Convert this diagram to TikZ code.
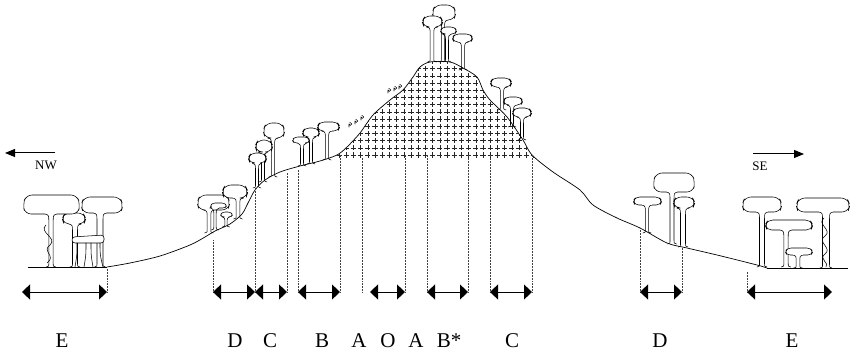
\documentclass[tikz,border=0pt]{standalone}
\usepackage{fontspec}
\setmainfont{Liberation Serif}
\usetikzlibrary{arrows.meta}

% mushroom-shaped tree: trunk x, ground y, crown left, crown right, crown top, crown bottom, trunk half width
\newcommand\mtree[7]{%
  \pgfmathsetmacro\mtrc{min(6,(#6-#5)/2.1)}%
  \pgfmathsetmacro\mtfl{min(3.5,(#4-#3)/6)}%
  \pgfmathsetmacro\mtda{#6+min(7,(#2-#6)*0.3)}%
  \pgfmathsetmacro\mtdb{#2-min(4,(#2-#6)*0.2)}%
  \draw[treeline] ({#1-#7-\mtfl},{#6}) .. controls ({#1-#7},{#6+0.8}) and ({#1-#7},{#6+2}) .. ({#1-#7},{\mtda})
      -- ({#1-#7},{\mtdb}) .. controls ({#1-#7},{#2-0.5}) .. ({#1-#7-2.5},{#2});
  \draw[treeline] ({#1+#7+\mtfl},{#6}) .. controls ({#1+#7},{#6+0.8}) and ({#1+#7},{#6+2}) .. ({#1+#7},{\mtda})
      -- ({#1+#7},{\mtdb}) .. controls ({#1+#7},{#2-0.5}) .. ({#1+#7+2.5},{#2});
  \filldraw[treeline, fill=white, rounded corners=\mtrc pt] ({#1-#7-\mtfl},{#6}) -- ({#3+2},{#6}) -- ({#3},{(#5+#6)/2}) -- ({#3+3},{#5}) -- ({#4-3},{#5}) -- ({#4},{(#5+#6)/2}) -- ({#4-2},{#6}) -- ({#1+#7+\mtfl},{#6});
}
% small shrub on the slope
\newcommand\shrub[2]{%
  \draw[treeline] ({#1},{#2}) -- ({#1},{#2-3}) arc[start angle=180, end angle=-120, radius=1.4];
}

\begin{document}
\begin{tikzpicture}[x=1pt, y=-1pt,
  treeline/.style={line width=0.55pt, line join=round, line cap=round},
  ground/.style={line width=0.7pt, line join=round},
  guide/.style={densely dotted, line width=0.5pt, black!75},
  span/.style={line width=1pt, {Triangle[width=15pt,length=8pt]}-{Triangle[width=15pt,length=8pt]}},
  compass/.style={line width=1pt, -{Triangle[width=8pt,length=10pt]}},
  zone/.style={font=\fontsize{21}{23}\selectfont, anchor=base, inner sep=0pt},
  dirlabel/.style={font=\fontsize{13}{15}\selectfont, anchor=base, inner sep=0pt},
  crossmark/.style={line width=0.5pt, black!85}]

\useasboundingbox (0,0) rectangle (850,352);

% ---- terrain profile ----
\draw[ground] (28,267) -- (107,267);
\draw[ground] plot[smooth, tension=0.5] coordinates {
  (107,267) (130,263) (160,256) (190,245) (205,237) (215,231) (230,224)
  (242,214) (248,203) (255,190) (265,180) (280,172) (300,166) (320,161)
  (337,155) (347,147) (360,133) (373,115) (390,100) (403,90) (413,77)
  (420,67) (430,62) (450,62) (463,68) (477,77) (483,90) (490,100)
  (507,117) (523,140) (532,155) (553,172) (580,190) (593,205) (617,218)
  (640,228) (667,243) (687,248) (717,255) (757,265) (767,268)};
\draw[ground] (767,268) -- (848,268);

% ---- cross hatching of the summit ----
\begin{scope}
  \clip plot[smooth, tension=0.5] coordinates {
    (337,155) (347,147) (360,133) (373,115) (390,100) (403,90) (413,77)
    (420,67) (430,62) (450,62) (463,68) (477,77) (483,90) (490,100)
    (507,117) (523,140) (532,155)} -- (535,158) -- (335,158) -- cycle;
  \foreach \i in {0,...,27}{
    \foreach \j in {0,...,13}{
      \draw[crossmark] ({339+\i*7.2-2.6},{155-\j*7.2}) -- ++(5.2,0)
                       ({339+\i*7.2},{155-\j*7.2-2.6}) -- ++(0,5.2);
    }
  }
\end{scope}

% ---- shrubs on the upper slope ----
\shrub{349}{127}
\shrub{355}{124}
\shrub{361}{120}
\shrub{388}{93}
\shrub{394}{91}
\shrub{399}{89}

% ---- left forest (E) ----
\mtree{75}{267}{62}{86}{213}{224}{2.5}
\mtree{51}{267}{23}{80}{195}{214}{2.2}
\mtree{100}{267}{81}{123}{197}{213}{3}
\draw[treeline] (46,225) .. controls (38,232) and (58,238) .. (50,245)
                .. controls (41,251) and (57,256) .. (47,263);
\filldraw[treeline, fill=white, rounded corners=3pt] (72,243) -- (72,237) -- (104,235) -- (104,243) -- cycle;
\draw[treeline] (77,243) .. controls (77,255) .. (75,267);
\draw[treeline] (86,243) .. controls (86,255) .. (84,267);
\draw[treeline] (91,243) .. controls (91,255) .. (93,267);
\draw[treeline] (100,243) .. controls (100,255) .. (103,267);

% ---- left D trees ----
\mtree{209}{233}{197}{230}{195}{210}{1.8}
\mtree{238}{219}{222}{248}{185}{198}{1.8}
\mtree{215}{230}{210}{227}{203}{208}{1.2}
\mtree{226}{227}{220}{233}{212}{217}{1.2}

% ---- C trees on the left slope ----
\mtree{273}{177}{263}{285}{123}{138}{1.6}
\mtree{263}{182}{255}{273}{140}{152}{1.5}
\mtree{257}{188}{248}{267}{153}{163}{1.5}

% ---- B trees ----
\mtree{302}{166}{292}{310}{137}{143}{1.5}
\mtree{311}{164}{302}{320}{128}{137}{1.5}
\mtree{327}{160}{317}{340}{122}{131}{1.6}

% ---- summit trees ----
\mtree{443}{62}{432}{456}{5}{20}{1.6}
\mtree{432}{62}{422}{443}{16}{27}{1.8}
\mtree{447}{62}{440}{457}{27}{34}{1.5}
\mtree{463}{70}{452}{473}{34}{42}{1.6}

% ---- C trees on the right slope ----
\mtree{502}{110}{490}{512}{78}{87}{1.6}
\mtree{512}{127}{503}{523}{97}{105}{1.5}
\mtree{522}{140}{512}{532}{108}{117}{1.5}

% ---- right D trees ----
\mtree{647}{233}{633}{662}{197}{205}{1.6}
\mtree{672}{244}{653}{695}{173}{192}{2}
\mtree{683}{247}{673}{695}{197}{208}{2.5}

% ---- right forest (E) ----
\mtree{762}{267}{742}{782}{197}{212}{2.5}
\mtree{786}{267}{765}{813}{220}{230}{2.2}
\mtree{798}{268}{785}{813}{248}{255}{1.8}
\mtree{826}{268}{796}{850}{198}{212}{3.5}
\draw[treeline] (824,218) .. controls (816,224) and (833,230) .. (825,236)
                .. controls (816,242) and (833,248) .. (825,254)
                .. controls (818,259) and (830,263) .. (826,267);

% ---- zone boundaries ----
\coordinate (eL) at (22,292);
\coordinate (eR) at (107,292);
\coordinate (d1) at (213,292);
\coordinate (c1) at (255,292);
\coordinate (c2) at (287,292);
\coordinate (b1) at (298,292);
\coordinate (b2) at (340,292);
\coordinate (a1) at (362,292);
\coordinate (o1) at (370,292);
\coordinate (o2) at (405,292);
\coordinate (s1) at (427,292);
\coordinate (s2) at (468,292);
\coordinate (r1) at (490,292);
\coordinate (r2) at (532,292);
\coordinate (q1) at (640,292);
\coordinate (q2) at (682,292);
\coordinate (f1) at (747,292);
\coordinate (f2) at (832,292);

\draw[guide] (eR) -- ++(0,-24);
\draw[guide] (d1) -- ++(0,-52);
\draw[guide] (c1) -- ++(0,-104);
\draw[guide] (c2) -- ++(0,-120);
\draw[guide] (b1) -- ++(0,-123);
\draw[guide] (b2) -- ++(0,-137);
\draw[guide] (a1) -- ++(0,-135);
\draw[guide] (o2) -- ++(0,-137);
\draw[guide] (s1) -- ++(0,-137);
\draw[guide] (s2) -- ++(0,-137);
\draw[guide] (r1) -- ++(0,-137);
\draw[guide] (r2) -- ++(0,-137);
\draw[guide] (q1) -- ++(0,-62);
\draw[guide] (q2) -- ++(0,-45);
\draw[guide] (f1) -- ++(0,-20);

% ---- zone extents ----
\draw[span] (eL) -- (eR);
\draw[span] (d1) -- (c1);
\draw[span] (c1) -- (c2);
\draw[span] (b1) -- (b2);
\draw[span] (o1) -- (o2);
\draw[span] (s1) -- (s2);
\draw[span] (r1) -- (r2);
\draw[span] (q1) -- (q2);
\draw[span] (f1) -- (f2);

% ---- zone letters ----
\node[zone] (lE1) at (62,347) {E};
\node[zone] (lD1) at (235,347) {D};
\node[zone] (lC1) at (270,347) {C};
\node[zone] (lB1) at (322,347) {B};
\node[zone] (lA1) at (359,347) {A};
\node[zone] (lO)  at (388,347) {O};
\node[zone] (lA2) at (416,347) {A};
\node[zone] (lB2) at (449,347) {B*};
\node[zone] (lC2) at (512,347) {C};
\node[zone] (lD2) at (660,347) {D};
\node[zone] (lE2) at (792,347) {E};

% ---- orientation ----
\coordinate (nwTail) at (55,153);
\coordinate (nwHead) at (5,153);
\draw[compass] (nwTail) -- (nwHead);
\node[dirlabel] (nw) at (46,169.5) {NW};
\coordinate (seTail) at (753,154);
\coordinate (seHead) at (804,154);
\draw[compass] (seTail) -- (seHead);
\node[dirlabel] (se) at (760,171) {SE};

\end{tikzpicture}
\end{document}
